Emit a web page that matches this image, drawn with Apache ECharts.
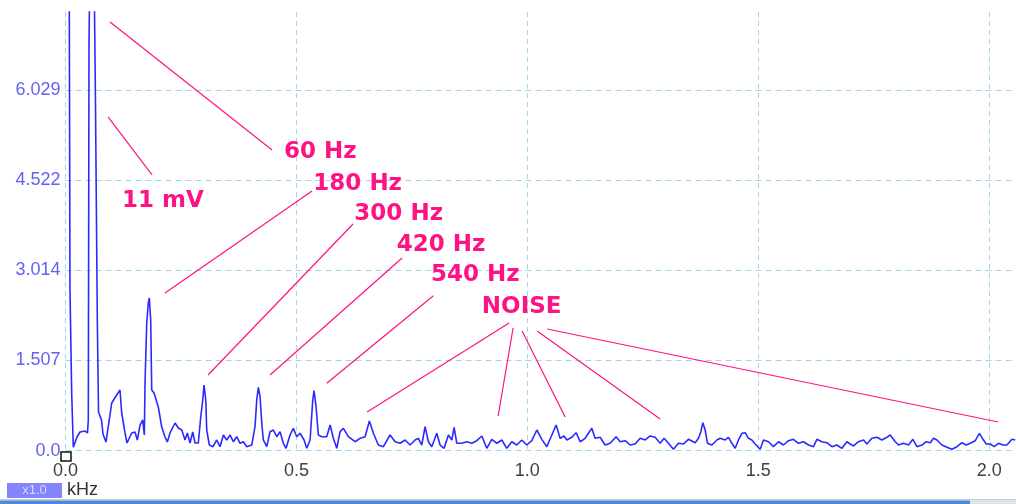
<!DOCTYPE html>
<html>
<head>
<meta charset="utf-8">
<script src="https://cdn.jsdelivr.net/npm/echarts@6/dist/echarts.min.js"></script>
<style>
html,body{margin:0;padding:0;background:#fff;}
#chart{width:1016px;height:504px;}
</style>
</head>
<body>
<div id="chart"></div>
<script>
// Spectrum data (frequency in kHz, amplitude in axis units)
const freq = [
0.0076,0.0097,0.0134,0.0169,0.0249,0.0314,0.0422,0.0476,0.0494,0.0509,0.0541,0.0606,0.065,0.0689,0.0715,0.0747,0.078,0.0812,0.0877,
0.1001,0.1109,0.118,0.1217,0.1289,0.1332,0.1434,0.1505,0.1555,0.1614,0.1672,0.1707,0.1722,0.1759,0.1793,0.1815,0.1845,0.1867,0.1917,0.196,
0.201,0.2084,0.2155,0.2205,0.2263,0.2372,0.2443,0.2517,0.2588,0.2638,0.2697,0.2755,0.2805,0.2876,0.2928,0.2972,0.3,0.3037,0.3058,0.3115,
0.3195,0.3275,0.3346,0.3418,0.3491,0.3563,0.3634,0.3708,0.3779,0.3851,0.3925,0.4033,0.4104,0.4141,0.4176,0.4213,0.425,0.4284,0.4358,0.4429,
0.4501,0.4574,0.4646,0.4717,0.4776,0.4862,0.4934,0.5008,0.5079,0.5166,0.5224,0.5296,0.5354,0.5382,0.5426,0.5475,0.5549,0.5657,0.5729,0.58,
0.5874,0.5945,0.6017,0.6125,0.627,0.6379,0.6487,0.658,0.6667,0.6775,0.6883,0.7028,0.7137,0.7245,0.7353,0.7462,0.757,0.7641,0.7715,0.7786,
0.7858,0.7932,0.804,0.8111,0.8198,0.8291,0.8365,0.8415,0.8473,0.8581,0.869,0.8798,0.8906,0.9015,0.9123,0.9231,0.9339,0.9448,0.9556,0.9664,
0.9772,0.9881,0.9989,1.0097,1.0206,1.0314,1.0422,1.0531,1.0624,1.071,1.0797,1.0855,1.0964,1.1057,1.1144,1.1252,1.1323,1.1397,1.1468,1.1577,
1.1685,1.1793,1.1923,1.201,1.2118,1.2226,1.2335,1.2443,1.2551,1.266,1.2768,1.2876,1.2963,1.3056,1.3164,1.3273,1.3381,1.3489,1.3526,1.3634,
1.3706,1.3758,1.3801,1.3851,1.3901,1.3996,1.4104,1.4176,1.4284,1.4356,1.4429,1.4501,1.4572,1.4646,1.4717,1.4789,1.4862,1.4934,1.5042,1.5114,
1.5222,1.533,1.5439,1.5547,1.5655,1.5763,1.5872,1.598,1.6088,1.6197,1.627,1.6378,1.6487,1.6595,1.6703,1.6812,1.692,1.6991,1.7063,1.7171,
1.728,1.7353,1.7461,1.757,1.7678,1.7786,1.7858,1.7966,1.8038,1.8146,1.8254,1.835,1.8436,1.8545,1.8638,1.8725,1.8796,1.8869,1.8977,1.9086,
1.9194,1.9303,1.9411,1.9504,1.959,1.9699,1.9792,1.9866,1.9937,2.0024,2.011,2.0204,2.0299,2.0386,2.0494,2.0566
];
const amp = [
9.5,2.685,0.964,0.060,0.229,0.312,0.329,0.296,0.513,6.81,9.0,9.0,5.743,2.18,0.647,0.68,0.513,0.279,0.145,
0.797,0.931,1.014,0.63,0.296,0.129,0.296,0.312,0.179,0.429,0.513,0.262,1.131,2.134,2.468,2.551,2.18,1.014,0.964,0.981,
0.73,0.396,0.229,0.145,0.296,0.463,0.379,0.346,0.179,0.296,0.129,0.312,0.129,0.129,0.563,0.847,1.098,0.847,0.346,0.095,
0.067,0.179,0.067,0.262,0.179,0.262,0.150,0.234,0.124,0.150,0.067,0.095,0.401,0.847,1.059,0.902,0.458,0.179,0.067,0.317,
0.346,0.234,0.317,0.124,0.040,0.262,0.374,0.234,0.291,0.179,0.040,0.179,0.847,1.003,0.735,0.262,0.234,0.234,0.429,0.207,
0.040,0.317,0.374,0.234,0.150,0.207,0.234,0.496,0.291,0.095,0.067,0.262,0.150,0.124,0.179,0.095,0.179,0.207,0.095,0.401,
0.150,0.067,0.291,0.095,0.040,0.262,0.179,0.391,0.124,0.124,0.150,0.124,0.167,0.246,0.040,0.190,0.124,0.179,0.040,0.150,
0.095,0.179,0.095,0.167,0.346,0.190,0.067,0.262,0.429,0.207,0.246,0.179,0.224,0.301,0.150,0.207,0.291,0.374,0.207,0.224,
0.095,0.124,0.234,0.150,0.167,0.095,0.112,0.207,0.179,0.246,0.224,0.124,0.207,0.124,0.023,0.124,0.112,0.190,0.179,0.134,
0.207,0.317,0.468,0.346,0.124,0.095,0.179,0.207,0.179,0.224,0.124,0.040,0.179,0.291,0.301,0.207,0.179,0.112,0.023,0.179,
0.150,0.067,0.150,0.095,0.167,0.190,0.124,0.150,0.095,0.067,0.190,0.150,0.134,0.067,0.095,0.040,0.150,0.112,0.079,0.150,
0.179,0.112,0.207,0.224,0.179,0.224,0.262,0.150,0.095,0.124,0.095,0.190,0.067,0.095,0.150,0.134,0.207,0.179,0.095,0.057,
0.023,0.067,0.134,0.095,0.124,0.167,0.291,0.190,0.112,0.112,0.067,0.124,0.095,0.095,0.190,0.179
];
const yTickLabels = ['0.0','1.507','3.014','4.522','6.029'];
const xTickLabels = ['0.0','0.5','1.0','1.5','2.0'];

// Annotations (data coordinates)
const noteText = ['60 Hz','11 mV','180 Hz','300 Hz','420 Hz','540 Hz','NOISE'];
const noteX = [0.4733,0.1224,0.5367,0.6255,0.7173,0.7916,0.9015];
const noteY = [4.991,4.164,4.456,3.955,3.429,2.927,2.406];
const leaderX1 = [0.0964,0.0921,0.5339,0.6227,0.7288,0.7966,0.9606,0.9692,0.9887,1.0212,1.0429];
const leaderY1 = [7.163,5.576,4.339,3.788,3.22,2.59,2.134,2.05,2.0,2.0,2.033];
const leaderX2 = [0.4473,0.1874,0.2155,0.3086,0.4429,0.5657,0.653,0.9368,1.0819,1.2876,2.0197];
const leaderY2 = [5.024,4.607,2.635,1.265,1.265,1.126,0.647,0.58,0.563,0.53,0.48];

const Y_INTERVAL = 1.5072;
const PINK = '#ff1283';
const GRID = '#a3d5e8';

const chart = echarts.init(document.getElementById('chart'), null, {renderer:'canvas'});
const pts = freq.map((f,i)=>[f, amp[i]]);

chart.setOption({
  animation:false,
  backgroundColor:'#ffffff',
  grid:{left:65.5, right:1, top:12, bottom:53.3, containLabel:false},
  xAxis:{
    type:'value', min:0, max:2.056, interval:0.5,
    axisLine:{show:false}, axisTick:{show:false},
    axisLabel:{show:true, margin:11, color:'#3f3f3f', fontSize:18, fontFamily:'Liberation Sans, Arial, sans-serif',
      showMaxLabel:false,
      formatter:(v,i)=> (i < xTickLabels.length ? xTickLabels[i] : '')},
    splitLine:{show:true, showMinLine:true, showMaxLine:false, lineStyle:{color:GRID, type:[5,4], width:1}}
  },
  yAxis:{
    type:'value', min:0, max:7.33, interval:Y_INTERVAL,
    axisLine:{show:false}, axisTick:{show:false},
    axisLabel:{show:true, margin:5, color:'#6262f2', fontSize:18, fontFamily:'Liberation Sans, Arial, sans-serif',
      showMaxLabel:false,
      formatter:(v,i)=> (i < yTickLabels.length ? yTickLabels[i] : '')},
    splitLine:{show:true, showMinLine:true, showMaxLine:false, lineStyle:{color:GRID, type:[6,4], width:1}}
  },
  series:[{
    type:'line', data:pts, symbol:'none', showSymbol:false, clip:true, z:3,
    lineStyle:{color:'#2a2aff', width:1.6},
    markLine:{
      silent:true, animation:false, symbol:['none','none'],
      lineStyle:{color:PINK, width:1.2, type:'solid'},
      label:{show:false},
      emphasis:{disabled:true},
      data: leaderX1.map((x,i)=>[{coord:[x, leaderY1[i]]},{coord:[leaderX2[i], leaderY2[i]]}])
    },
    markPoint:{
      silent:true, animation:false, symbol:'circle', symbolSize:0,
      label:{show:true, position:'right', distance:0, color:PINK, fontSize:23, fontWeight:'bold',
        fontFamily:'DejaVu Sans, sans-serif', formatter:p=>p.name},
      data: noteText.map((t,i)=>({name:t, coord:[noteX[i], noteY[i]]}))
    }
  }],
  graphic:[
    {type:'rect', shape:{x:61, y:452, width:10, height:9}, style:{fill:'#ffffff', stroke:'#111', lineWidth:1.5}, z:10},
    {type:'rect', shape:{x:7, y:483, width:55, height:15}, style:{fill:'#8484ff'}, z:10},
    {type:'text', x:34.5, y:490.5, style:{text:'x1.0', fill:'#d8d8ff', font:'13px Liberation Sans, Arial, sans-serif', align:'center', verticalAlign:'middle'}, z:11},
    {type:'text', x:67, y:490.5, style:{text:'kHz', fill:'#333333', font:'18px Liberation Sans, Arial, sans-serif', align:'left', verticalAlign:'middle'}, z:11},
    {type:'rect', shape:{x:0, y:499, width:1016, height:1.5}, style:{fill:'#c8ccd2'}, z:10},
    {type:'rect', shape:{x:0, y:500.5, width:970, height:3.5}, style:{fill:'#4a8ad6'}, z:10},
    {type:'rect', shape:{x:970, y:500.5, width:46, height:3.5}, style:{fill:'#dfe3e8'}, z:10}
  ]
});
</script>
</body>
</html>
